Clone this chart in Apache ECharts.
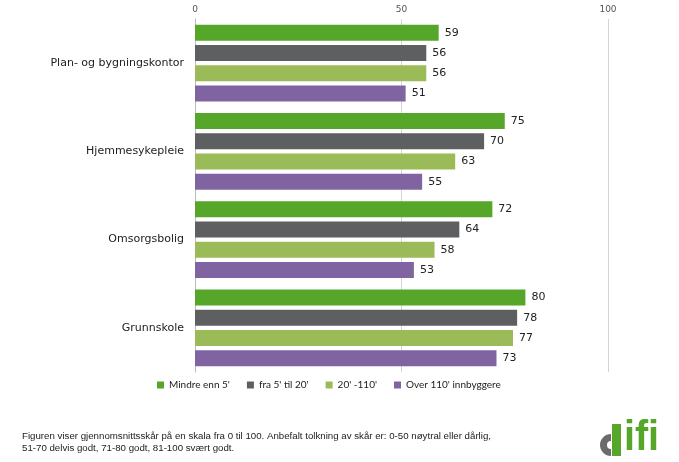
<!DOCTYPE html>
<html><head><meta charset="utf-8">
<script src="https://cdn.jsdelivr.net/npm/echarts@6/dist/echarts.min.js"></script>
<style>html,body{margin:0;padding:0;background:#fff}#c{width:679px;height:462px}</style>
</head><body><div id="c"></div>
<script>
var categories = ["Plan- og bygningskontor", "Hjemmesykepleie", "Omsorgsbolig", "Grunnskole"];
var seriesNames = ["Mindre enn 5'", "fra 5' til 20'", "20' -110'", "Over 110' innbyggere"];
var valsSmall = [59, 75, 72, 80];
var valsMid = [56, 70, 64, 78];
var valsLarge = [56, 63, 58, 77];
var valsBiggest = [51, 55, 53, 73];
var axisTicks = [0, 50, 100];
var colors = ["#55A629", "#5E5F61", "#9BBB59", "#8064A2"];
var footer1 = "Figuren viser gjennomsnittsskår på en skala fra 0 til 100. Anbefalt tolkning av skår er: 0-50 nøytral eller dårlig,";
var footer2 = "51-70 delvis godt, 71-80 godt, 81-100 svært godt.";

var allVals = [valsSmall, valsMid, valsLarge, valsBiggest];
var chart = echarts.init(document.getElementById('c'), null, {renderer: 'canvas'});
var series = allVals.map(function (v, i) {
  return {
    name: seriesNames[i], type: 'bar', data: v,
    barWidth: 16, barGap: '27%',
    itemStyle: {color: colors[i]},
    label: {show: true, position: 'right', distance: 6, color: '#222', fontSize: 11, fontFamily: 'DejaVu Sans'}
  };
});
chart.setOption({
  animation: false,
  grid: {left: 195, right: 71, top: 19, bottom: 90},
  legend: {
    data: seriesNames, left: 152, top: 375, itemWidth: 7, itemHeight: 7, itemGap: 17,
    icon: 'rect',
    textStyle: {fontFamily: 'Lato', fontSize: 10, color: '#222'}
  },
  xAxis: {
    type: 'value', position: 'top', min: axisTicks[0], max: axisTicks[2], interval: axisTicks[1],
    axisLine: {show: false}, axisTick: {show: false},
    axisLabel: {color: '#555', fontSize: 9, fontFamily: 'DejaVu Sans', margin: 5},
    splitLine: {show: true, lineStyle: {color: '#d4d4d4', width: 1}}
  },
  yAxis: {
    type: 'category', data: categories, inverse: true,
    axisLine: {show: true, lineStyle: {color: '#bbb'}}, axisTick: {show: false},
    axisLabel: {color: '#222', fontSize: 11, fontFamily: 'DejaVu Sans', margin: 11}
  },
  series: series,
  graphic: [
    {type: 'text', left: 22, top: 430, style: {text: footer1 + "\n" + footer2, fontFamily: 'Liberation Sans', fontSize: 9.7, lineHeight: 12.5, fill: '#222'}},
    {type: 'group', left: 600, top: 417, children: [
      {type: 'sector', shape: {cx: 11, cy: 25, r: 11, r0: 4, startAngle: Math.PI / 2, endAngle: Math.PI * 3 / 2}, style: {fill: '#6b6b6b'}},
      {type: 'rect', shape: {x: 12, y: 4, width: 9, height: 32}, style: {fill: '#55A629'}},
      {type: 'text', x: 24, y: -3, scaleX: 0.94, style: {text: 'ifi', fontFamily: 'Liberation Sans', fontWeight: 'bold', fontSize: 42, fill: '#55A629'}}
    ]}
  ]
});
</script></body></html>
